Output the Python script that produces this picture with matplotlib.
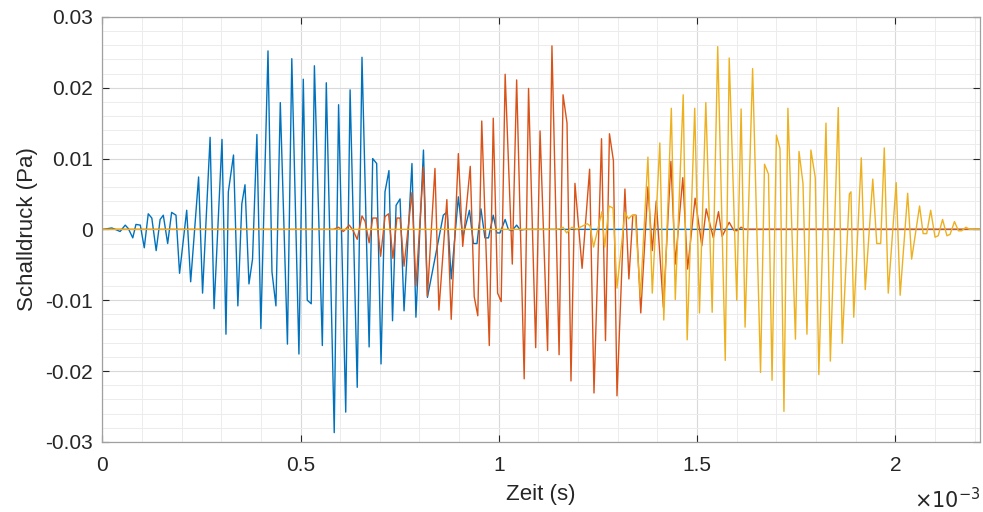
import numpy as np
import matplotlib
matplotlib.use('Agg')
import matplotlib.pyplot as plt
from matplotlib.ticker import MultipleLocator, FixedLocator

plt.rcParams['font.family'] = ['Liberation Sans Narrow', 'Liberation Sans', 'DejaVu Sans']

# time in ms (axis shows x 1e-3 s), pressure in Pa
t_blue = [0, 0.003, 0.024, 0.033, 0.045, 0.058, 0.066, 0.077, 0.085, 0.096,
          0.106, 0.116, 0.125, 0.136, 0.146, 0.154, 0.165, 0.175, 0.186, 0.195,
          0.213, 0.223, 0.243, 0.253, 0.272, 0.282, 0.302, 0.312, 0.318, 0.331,
          0.342, 0.352, 0.360, 0.370, 0.379, 0.390, 0.400, 0.418, 0.428, 0.438,
          0.449, 0.467, 0.478, 0.496, 0.507, 0.517, 0.527, 0.535, 0.555, 0.565,
          0.585, 0.596, 0.614, 0.625, 0.643, 0.655, 0.673, 0.682, 0.692, 0.703,
          0.713, 0.723, 0.732, 0.741, 0.751, 0.761, 0.781, 0.791, 0.810, 0.820,
          0.860, 0.870, 0.880, 0.898, 0.909, 0.926, 0.936, 0.945, 0.955, 0.965,
          0.974, 0.986, 0.995, 1.003, 1.016, 1.024, 1.033, 1.045, 1.054, 1.066,
          2.2135]
p_blue = [0, 0, 0.0002, 0, -0.0003, 0.0006, 0.0001, -0.0012, 0.0007, 0.0006,
          -0.0026, 0.0022, 0.0016, -0.003, 0.0014, 0.002, -0.002, 0.0024, 0.002, -0.0062,
          0.0027, -0.0074, 0.0074, -0.009, 0.013, -0.0112, 0.0127, -0.0148, 0.0053, 0.0105,
          -0.0108, 0.0036, 0.0063, -0.0077, -0.0042, 0.0134, -0.014, 0.0252, -0.006, -0.0108,
          0.0179, -0.0162, 0.0241, -0.0176, 0.0212, -0.0100, -0.0105, 0.0231, -0.0164, 0.0207,
          -0.0287, 0.0176, -0.0258, 0.0197, -0.0223, 0.0243, -0.0166, 0.010, 0.0093, -0.019,
          0.0053, 0.0083, -0.0129, 0.0034, 0.0043, -0.0115, 0.0093, -0.0124, 0.0112, -0.0096,
          0.002, 0.0025, -0.007, 0.0046, -0.0011, 0.0027, -0.002, -0.002, 0.0029, -0.0012,
          -0.0012, 0.002, -0.0005, -0.0005, 0.0014, 0, -0.0002, 0.0006, -0.0001, 0,
          0]

t_orange = [0, 0.583, 0.596, 0.608, 0.623, 0.632, 0.643, 0.655, 0.663, 0.673,
            0.682, 0.692, 0.702, 0.713, 0.722, 0.733, 0.743, 0.751, 0.761, 0.781,
            0.791, 0.810, 0.820, 0.839, 0.849, 0.869, 0.880, 0.898, 0.909, 0.928,
            0.938, 0.947, 0.957, 0.976, 0.986, 0.997, 1.006, 1.016, 1.034, 1.045,
            1.064, 1.075, 1.093, 1.104, 1.123, 1.134, 1.152, 1.162, 1.172, 1.182,
            1.192, 1.210, 1.229, 1.240, 1.259, 1.269, 1.279, 1.289, 1.298, 1.318,
            1.328, 1.338, 1.346, 1.358, 1.376, 1.387, 1.397, 1.415, 1.434, 1.445,
            1.464, 1.476, 1.495, 1.512, 1.523, 1.541, 1.554, 1.563, 1.581, 1.592,
            1.600, 1.611, 1.621, 1.634, 2.2135]
p_orange = [0, 0, 0.0003, -0.0003, 0.0006, -0.0001, -0.0014, 0.0019, 0.0011, -0.0019,
            0.0016, 0.0016, -0.0038, 0.0018, 0.0022, -0.0041, 0.0016, 0.0016, -0.0052, 0.0052,
            -0.008, 0.0088, -0.0094, 0.0086, -0.0114, 0.0042, -0.0127, 0.0107, -0.0024, 0.0089,
            -0.0095, -0.0122, 0.0153, -0.0164, 0.0157, -0.009, -0.0102, 0.0219, -0.0049, 0.0211,
            -0.0211, 0.0199, -0.0167, 0.0139, -0.0171, 0.0259, -0.0177, 0.019, 0.015, -0.0214,
            0.0065, -0.0055, 0.0085, -0.0231, 0.0128, -0.0157, 0.0135, 0.0097, -0.0235, 0.0057,
            -0.007, 0.002, 0.002, -0.0118, 0.006, -0.003, 0.004, -0.011, 0.0096, -0.0049,
            0.0073, -0.0056, 0.0044, -0.0023, 0.0029, -0.0012, 0.0025, -0.001, 0.001, -0.0001,
            -0.0002, 0.0003, 0, 0, 0]

t_yellow = [0, 1.147, 1.155, 1.162, 1.171, 1.184, 1.197, 1.205, 1.223, 1.230,
            1.239, 1.260, 1.267, 1.278, 1.288, 1.298, 1.318, 1.327, 1.336, 1.344,
            1.357, 1.376, 1.387, 1.406, 1.416, 1.435, 1.445, 1.465, 1.475, 1.494,
            1.506, 1.522, 1.538, 1.552, 1.571, 1.581, 1.600, 1.611, 1.621, 1.640,
            1.660, 1.670, 1.680, 1.689, 1.700, 1.709, 1.719, 1.729, 1.748, 1.757,
            1.767, 1.777, 1.787, 1.798, 1.807, 1.825, 1.836, 1.856, 1.866, 1.884,
            1.888, 1.895, 1.914, 1.924, 1.943, 1.953, 1.963, 1.972, 1.982, 2.002,
            2.012, 2.031, 2.041, 2.061, 2.070, 2.079, 2.089, 2.100, 2.108, 2.119,
            2.130, 2.138, 2.149, 2.159, 2.167, 2.178, 2.187, 2.2135]
p_yellow = [0, 0, 0.0001, 0.0003, -0.0005, 0.0003, 0, 0.0003, 0.0008, 0.0005,
            -0.0025, 0.0025, -0.0025, 0.0033, 0.003, -0.0083, 0.0024, 0.0015, 0.002, 0.002,
            -0.0095, 0.0102, -0.009, 0.0122, -0.0128, 0.0171, -0.0099, 0.019, -0.0156, 0.0171,
            -0.0118, 0.0179, -0.0117, 0.0258, -0.0185, 0.0242, -0.01, 0.017, -0.0138, 0.0227,
            -0.0202, 0.0092, 0.0078, -0.0213, 0.0133, 0.0114, -0.0257, 0.0171, -0.0155, 0.011,
            0.0065, -0.0148, 0.0112, 0.0073, -0.0205, 0.015, -0.0186, 0.0172, -0.0161, 0.005,
            0.0053, -0.0124, 0.0101, -0.0085, 0.0071, -0.002, -0.002, 0.0115, -0.009, 0.0066,
            -0.0093, 0.0051, -0.0042, 0.0033, -0.0006, -0.0006, 0.0027, -0.0011, -0.0009, 0.0014,
            -0.0009, -0.0007, 0.0011, -0.0002, -0.0002, 0.0003, 0, 0]

x_ticks = [0, 0.5, 1, 1.5, 2]
x_ticklabels = ['0', '0.5', '1', '1.5', '2']
y_ticks = [-0.03, -0.02, -0.01, 0, 0.01, 0.02, 0.03]
y_ticklabels = ['-0.03', '-0.02', '-0.01', '0', '0.01', '0.02', '0.03']

txt = '#262626'

fig = plt.figure(figsize=(9.83, 5.12), dpi=100)
ax = fig.add_axes([0.104, 0.137, 0.893, 0.830])

ax.plot(t_blue, p_blue, color='#0072BD', lw=1.0)
ax.plot(t_orange, p_orange, color='#D95319', lw=1.0)
ax.plot(t_yellow, p_yellow, color='#EDB120', lw=1.0)

ax.set_xlim(0, 2.2135)
ax.set_ylim(-0.03, 0.03)

ax.xaxis.set_major_locator(FixedLocator(x_ticks))
ax.set_xticklabels(x_ticklabels)
ax.yaxis.set_major_locator(FixedLocator(y_ticks))
ax.set_yticklabels(y_ticklabels)
ax.xaxis.set_minor_locator(MultipleLocator(0.1))
ax.yaxis.set_minor_locator(MultipleLocator(0.002))

ax.grid(True, which='major', color='#d9d9d9', lw=0.8)
ax.grid(True, which='minor', color='#ececec', lw=0.7)
ax.set_axisbelow(True)

ax.tick_params(which='both', direction='in', top=True, right=True, colors=txt,
               labelsize=15)
ax.tick_params(which='major', length=5, width=0.8)
ax.tick_params(which='minor', length=0)
ax.tick_params(axis='x', pad=10)
ax.tick_params(axis='y', pad=7)
for s in ax.spines.values():
    s.set_color('#a0a0a0')
    s.set_linewidth(0.9)

ax.set_xlabel('Zeit (s)', fontsize=16, color=txt, labelpad=7)
ax.set_ylabel('Schalldruck (Pa)', fontsize=16, color=txt, labelpad=5)
ax.text(1.0, -0.135, r'$\times10^{-3}$', transform=ax.transAxes, ha='right', va='center',
        fontsize=15, color=txt)

fig.savefig('out.png', dpi=100)
